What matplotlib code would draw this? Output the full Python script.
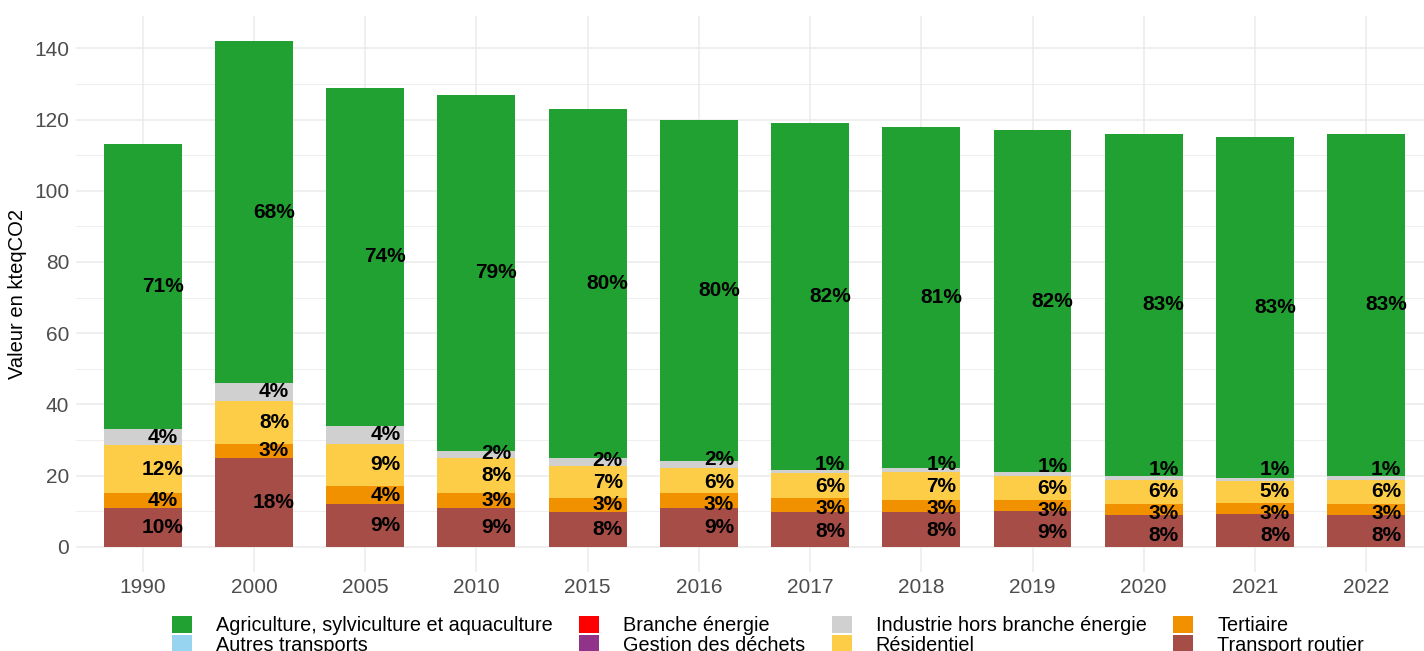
import matplotlib
matplotlib.use("Agg")
import matplotlib.pyplot as plt
from matplotlib.patches import Patch
from matplotlib.ticker import MultipleLocator
import numpy as np

years = ["1990", "2000", "2005", "2010", "2015", "2016", "2017", "2018", "2019", "2020", "2021", "2022"]

# kteqCO2 per sector
transport_routier = [11, 25, 12, 11, 9.8, 11, 9.8, 9.8, 10, 9, 9.2, 9]
tertiaire = [4, 4, 5, 4, 4, 4, 3.8, 3.2, 3, 3, 3, 3]
residentiel = [13.5, 12, 12, 10, 9, 7, 7, 8.1, 7, 6.8, 6.2, 6.8]
industrie = [4.5, 5, 5, 2, 2, 2, 1, 0.9, 0.9, 1.1, 1, 1.1]
gestion_dechets = [0] * 12
branche_energie = [0] * 12
autres_transports = [0] * 12
agriculture = [80, 96, 95, 100, 98.2, 96, 97.4, 96, 96.1, 96.1, 95.6, 96.1]

# bottom -> top stacking order
stack = [
    ("Transport routier", transport_routier, "#a64d47"),
    ("Tertiaire", tertiaire, "#f29100"),
    ("Résidentiel", residentiel, "#fecd47"),
    ("Industrie hors branche énergie", industrie, "#d0d0d0"),
    ("Gestion des déchets", gestion_dechets, "#92338a"),
    ("Branche énergie", branche_energie, "#ff0000"),
    ("Autres transports", autres_transports, "#97d4f0"),
    ("Agriculture, sylviculture et aquaculture", agriculture, "#21a131"),
]

plt.rcParams.update({"font.family": ["Liberation Sans", "DejaVu Sans"]})
GRID = "#ebebeb"
TICK = "#4d4d4d"


def spread(ys, gap):
    # push label centres apart (simple 1-D repel), keeping their order
    ys = list(ys)
    for _ in range(200):
        moved = False
        for j in range(len(ys) - 1):
            d = ys[j + 1] - ys[j]
            if d < gap:
                shift = (gap - d) / 2
                ys[j] -= shift
                ys[j + 1] += shift
                moved = True
        if not moved:
            break
    return ys


fig = plt.figure(figsize=(14.24, 6.51), dpi=100)
ax = fig.add_axes([76 / 1424, 1 - 572 / 651, 1 - 76 / 1424, (572 - 16) / 651])

x = np.arange(len(years))
totals = np.sum([np.array(v, dtype=float) for _, v, _ in stack], axis=0)
bottom = np.zeros(len(years))
labels_per_bar = [[] for _ in years]
for name, vals, col in stack:
    vals = np.array(vals, dtype=float)
    ax.bar(x, vals, bottom=bottom, width=0.7, color=col, zorder=3, linewidth=0)
    for i, v in enumerate(vals):
        pct = round(v / totals[i] * 100)
        if v > 0 and pct >= 1:
            labels_per_bar[i].append((bottom[i] + v / 2, f"{pct}%"))
    bottom += vals

for i, items in enumerate(labels_per_bar):
    ys = spread([y for y, _ in items], 6.2)
    for yy, (_, txt) in zip(ys, items):
        ax.text(x[i] + 0.18, yy, txt, ha="center", va="center",
                fontsize=15, fontweight="bold", color="black", zorder=4)

ax.set_xlim(-0.6, 11.52)
ax.set_ylim(-7.1, 149.1)
ax.set_xticks(x)
ax.set_xticklabels(years)
ax.yaxis.set_major_locator(MultipleLocator(20))
ax.yaxis.set_minor_locator(MultipleLocator(10))
ax.grid(which="major", color=GRID, lw=1.1, zorder=0)
ax.grid(which="minor", axis="y", color=GRID, lw=0.6, zorder=0)
ax.tick_params(which="both", length=0, labelsize=15, labelcolor=TICK)
ax.tick_params(axis="x", pad=4)
ax.tick_params(axis="y", pad=5)
for s in ax.spines.values():
    s.set_visible(False)
ax.set_ylabel("Valeur en kteqCO2", fontsize=14.5, color="black", labelpad=5)

# legend in alphabetical order, filled column by column
order = sorted(stack, key=lambda t: t[0])
handles = [Patch(facecolor=c, edgecolor="none") for _, _, c in order]
labels = [n for n, _, _ in order]
fig.legend(handles, labels, ncol=4, loc="upper center", bbox_to_anchor=(768 / 1424, 1 - 606 / 651),
           frameon=False, fontsize=14.3, handlelength=1.0, handleheight=0.95,
           handletextpad=1.2, columnspacing=1.35, labelspacing=0.0, borderpad=0)

fig.savefig("out.png", dpi=100, facecolor="white")
